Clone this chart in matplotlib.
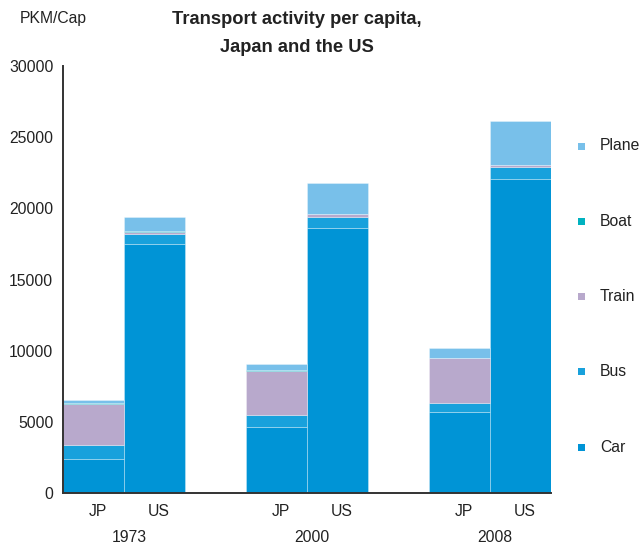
import matplotlib.pyplot as plt
import matplotlib.transforms as mtransforms
from matplotlib.patches import Rectangle
import numpy as np

plt.rcParams["font.family"] = ["Liberation Sans", "DejaVu Sans"]

# ---------------------------------------------------------------------------
# Data (PKM per capita), order: 1973 JP, 1973 US, 2000 JP, 2000 US, 2008 JP, 2008 US
# ---------------------------------------------------------------------------
YEARS = ["1973", "2000", "2008"]
COUNTRIES = ["JP", "US"]

car = [2370, 17500, 4610, 18650, 5665, 22090]
bus = [1020, 730, 865, 725, 675, 795]
train = [2880, 140, 3115, 195, 3160, 170]
boat = [30, 20, 25, 20, 20, 20]
plane = [210, 1010, 440, 2190, 660, 3060]

MODES = ["Car", "Bus", "Train", "Boat", "Plane"]
COLORS = ["#0094D6", "#18A1DC", "#B8A9CC", "#00B2C0", "#78C0EA"]
TEXT = "#222222"

series = [car, bus, train, boat, plane]

fig = plt.figure(figsize=(6.41, 5.47), dpi=100)
ax = fig.add_axes([0.0983, 0.0987, 0.7613, 0.7806])

# bar positions: two bars per year group, one empty slot between groups
pos = np.array([g * 3 + c for g in range(len(YEARS)) for c in range(len(COUNTRIES))])

bottom = np.zeros(len(pos))
for vals, col, name in zip(series, COLORS, MODES):
    vals = np.array(vals, dtype=float)
    ax.bar(pos, vals, width=1.0, bottom=bottom, color=col,
           edgecolor=(1, 1, 1, 0.35), linewidth=0.6, label=name)
    bottom += vals

ax.set_xlim(-0.5, 7.5)
ax.set_ylim(0, 30000)
ax.set_yticks(np.arange(0, 30001, 5000))
ax.set_yticklabels([str(v) for v in range(0, 30001, 5000)])
# labels sit a touch right of the bar centres in the original
ax.set_xticks(pos + 0.07)
ax.set_xticklabels(COUNTRIES * len(YEARS))
ax.tick_params(axis="both", length=0, labelsize=11.3, colors=TEXT)
ax.tick_params(axis="y", pad=7)
ax.tick_params(axis="x", pad=8)

for side in ["top", "right"]:
    ax.spines[side].set_visible(False)
for side in ["left", "bottom"]:
    ax.spines[side].set_color("#333333")
    ax.spines[side].set_linewidth(1.4)

# year labels under each group
trans = mtransforms.blended_transform_factory(ax.transData, fig.transFigure)
for g, yr in enumerate(YEARS):
    ax.text(g * 3 + 0.58, 1 - 537 / 547, yr, transform=trans, ha="center",
            va="center", fontsize=11.3, color=TEXT)

# titles
fig.text(20 / 641, 1 - 18 / 547, "PKM/Cap", ha="left", va="center",
         fontsize=11.3, color=TEXT)
fig.text(297 / 641, 1 - 20 / 547, "Transport activity per capita,",
         ha="center", va="center", fontsize=13.2, fontweight="bold", color=TEXT)
fig.text(297 / 641, 1 - 47 / 547, "Japan and the US",
         ha="center", va="center", fontsize=13.2, fontweight="bold", color=TEXT)

# legend drawn by hand, Plane on top
for i, (name, col) in enumerate(zip(MODES[::-1], COLORS[::-1])):
    yc = 146 + i * 75.3
    fig.add_artist(Rectangle((578 / 641, 1 - (yc + 3.5) / 547), 7 / 641, 7 / 547,
                             transform=fig.transFigure, color=col, lw=0))
    fig.text(600 / 641, 1 - yc / 547, name, ha="left", va="center",
             fontsize=11.3, color=TEXT)

fig.savefig("out.png", dpi=100)
